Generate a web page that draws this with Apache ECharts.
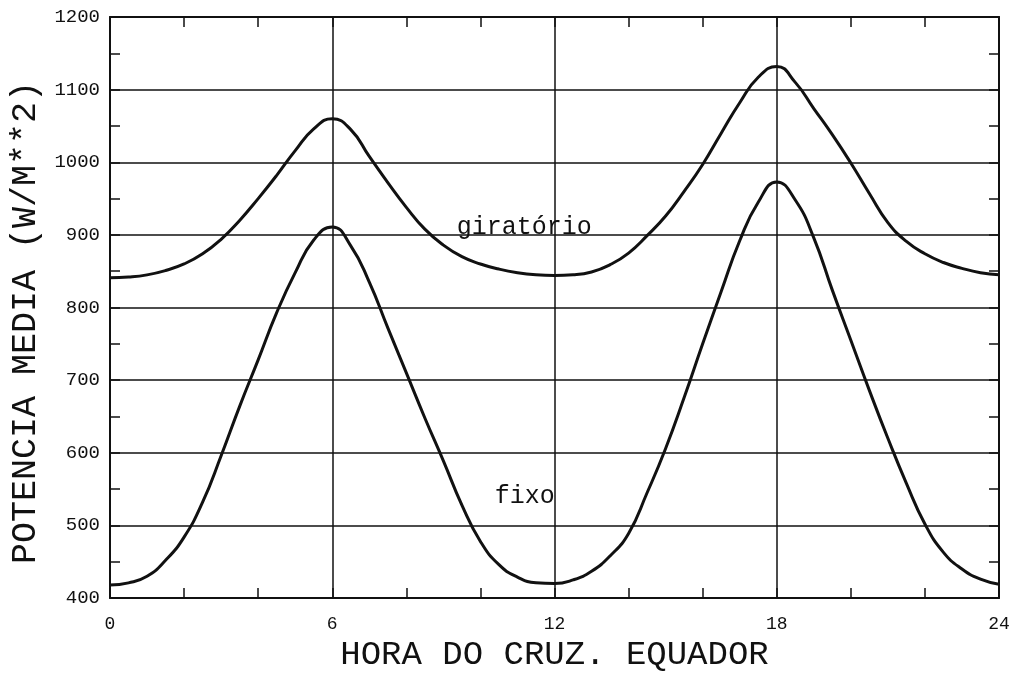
<!DOCTYPE html>
<html><head><meta charset="utf-8">
<script src="https://cdn.jsdelivr.net/npm/echarts@6/dist/echarts.min.js"></script>
<style>html,body{margin:0;padding:0;background:#fff}#c{width:1024px;height:677px}</style>
</head><body><div id="c"></div>
<script>
// ---- data ----
const hours = [0,0.5,1,1.5,2,2.5,3,3.5,4,4.5,5,5.5,6,6.5,7,7.5,8,8.5,9,9.5,10,10.5,11,11.5,12,
               12.5,13,13.5,14,14.5,15,15.5,16,16.5,17,17.5,18,18.5,19,19.5,20,20.5,21,21.5,22,22.5,23,23.5,24];
const giratorio = [841,842,845,851,860,874,894,920,950,982,1016,1046,1060,1045,1008,972,938,908,886,870,860,853,848,845,844,
                   845,849,859,875,899,926,960,997,1040,1082,1117,1132,1110,1074,1038,999,957,917,891,874,862,854,848,845];
const fixo = [418,421,430,452,484,532,596,664,728,793,848,893,911,885,835,772,710,648,589,528,478,446,429,421,420,
              425,437,458,489,545,606,676,750,822,892,945,973,948,896,824,755,686,620,558,502,463,440,426,419];
const xTickLabels = [0,6,12,18,24];
const yTickLabels = [400,500,600,700,800,900,1000,1100,1200];
const seriesNames = ['giratório','fixo'];
const xTitle = 'HORA DO CRUZ. EQUADOR';
const yTitle = 'POTENCIA MEDIA (W/M**2)';

// ---- chart ----
const INK = '#111';
const MONO = '"Liberation Mono","DejaVu Sans Mono",monospace';
const chart = echarts.init(document.getElementById('c'));

function xAxis(pos, withLabels) {
  return {
    type: 'value', position: pos, min: 0, max: 24, interval: 6,
    axisLine: {show: true, onZero: false, lineStyle: {color: INK, width: 2}},
    axisTick: {show: true, inside: true, length: 10, lineStyle: {color: INK, width: 1.5}},
    minorTick: {show: true, splitNumber: 3, length: 10, lineStyle: {color: INK, width: 1.5}},
    axisLabel: {show: withLabels, fontFamily: MONO, fontSize: 18, color: INK, margin: 17,
      formatter: v => xTickLabels.indexOf(v) >= 0 ? String(v) : ''},
    splitLine: {show: withLabels, lineStyle: {color: INK, width: 1.5}},
    name: withLabels ? xTitle : '', nameLocation: 'middle', nameGap: 38,
    nameTextStyle: {fontFamily: MONO, fontSize: 34, color: INK}
  };
}
function yAxis(pos, withLabels) {
  return {
    type: 'value', position: pos, min: yTickLabels[0], max: yTickLabels[yTickLabels.length-1], interval: 100,
    axisLine: {show: true, onZero: false, lineStyle: {color: INK, width: 2}},
    axisTick: {show: true, inside: true, length: 10, lineStyle: {color: INK, width: 1.5}},
    minorTick: {show: true, splitNumber: 2, length: 10, lineStyle: {color: INK, width: 1.5}},
    axisLabel: {show: withLabels, fontFamily: MONO, fontSize: 19, color: INK, margin: 10,
      formatter: v => yTickLabels.indexOf(v) >= 0 ? String(v) : ''},
    splitLine: {show: withLabels, lineStyle: {color: INK, width: 1.5}},
    name: withLabels ? yTitle : '', nameLocation: 'middle', nameGap: 45, nameRotate: 90,
    nameTextStyle: {fontFamily: MONO, fontSize: 35, color: INK, padding: [0, 30, 0, 0]}
  };
}
function annot(text, x, y, size) {
  return {
    symbolSize: 0, silent: true,
    label: {show: true, position: [0, 0], align: 'left', verticalAlign: 'bottom', offset: [0, 5],
      fontFamily: MONO, fontSize: size, color: INK, formatter: text},
    data: [{coord: [x, y]}]
  };
}
const line = (name, ys, mp) => ({
  name, type: 'line', xAxisIndex: 0, yAxisIndex: 0, smooth: 0.5, symbol: 'none',
  lineStyle: {color: INK, width: 3}, data: hours.map((h, i) => [h, ys[i]]), markPoint: mp, z: 5
});

chart.setOption({
  animation: false,
  backgroundColor: '#fff',
  grid: {left: 110, right: 25, top: 17, bottom: 66, containLabel: false},
  xAxis: [xAxis('bottom', true), xAxis('top', false)],
  yAxis: [yAxis('left', true), yAxis('right', false)],
  series: [
    line(seriesNames[0], giratorio, annot(seriesNames[0], 9.36, 900, 25)),
    line(seriesNames[1], fixo, annot(seriesNames[1], 10.39, 530, 25))
  ]
});
</script></body></html>
